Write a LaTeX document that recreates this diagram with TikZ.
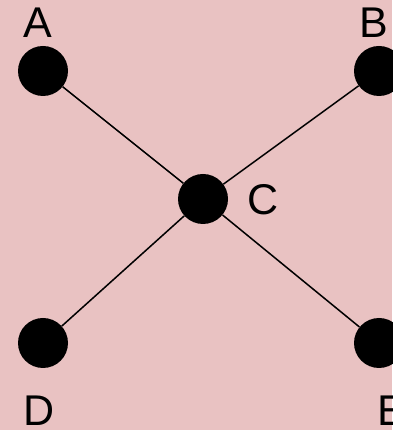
\documentclass[tikz,border=0pt]{standalone}
\usepackage{fontspec}
\setmainfont{Liberation Sans}
\definecolor{bgpink}{RGB}{233,194,194}
\begin{document}
\begin{tikzpicture}[x=1pt,y=1pt,
  dot/.style={circle,fill=black,inner sep=0pt,minimum size=50pt},
  lbl/.style={anchor=base,inner sep=0pt,font=\fontsize{43}{50}\selectfont},
  edge/.style={draw=black,line width=1.5pt}]
\fill[bgpink] (0,0) rectangle (392,430);
\useasboundingbox (0,0) rectangle (392,430);
\node[dot] (A) at (43,359) {};
\node[dot] (B) at (379,359) {};
\node[dot] (C) at (203,231) {};
\node[dot] (D) at (43,87) {};
\node[dot] (E) at (379,87) {};
\path[edge] (A) -- (C);
\path[edge] (C) -- (E);
\path[edge] (B) -- (C);
\path[edge] (C) -- (D);
\node[lbl] (la) at (38,392) {A};
\node[lbl] (lb) at (374,392) {B};
\node[lbl] (lc) at (263,215) {C};
\node[lbl] (ld) at (39,5) {D};
\node[lbl] (le) at (392,5) {E};
\end{tikzpicture}
\end{document}
